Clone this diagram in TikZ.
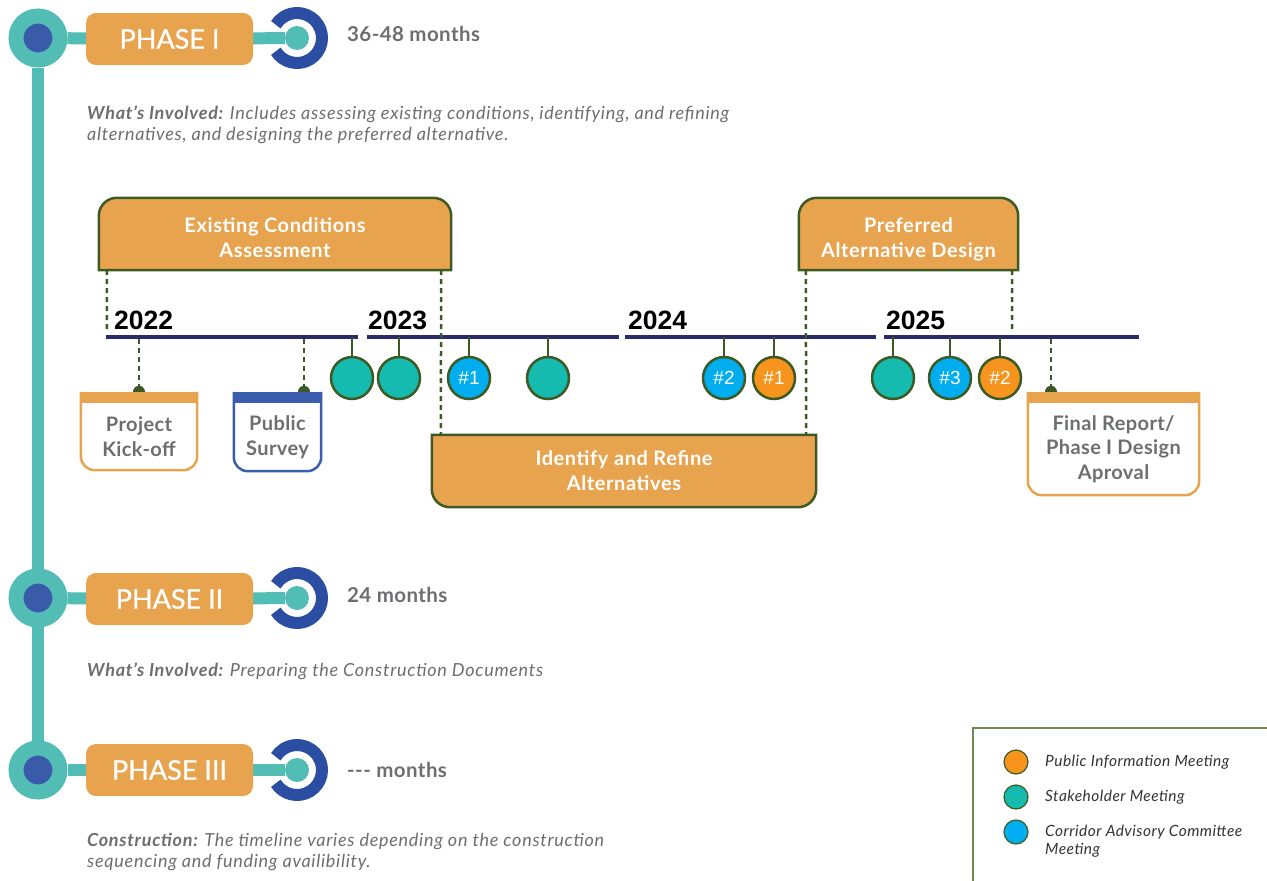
\documentclass[tikz,border=0pt]{standalone}
\usepackage{fontspec}
\setmainfont{Lato}
\newfontfamily\yearfont{Liberation Sans}
\usetikzlibrary{backgrounds}
\definecolor{boxorange}{HTML}{E8A34E}
\definecolor{tealline}{HTML}{52BDB4}
\definecolor{dotblue}{HTML}{3A5BAA}
\definecolor{arcblue}{HTML}{2B4EA2}
\definecolor{navy}{HTML}{2B2A6B}
\definecolor{dgreen}{HTML}{3D5A24}
\definecolor{mteal}{HTML}{15BBAE}
\definecolor{mblue}{HTML}{00AEEF}
\definecolor{morange}{HTML}{F7941D}
\definecolor{txtgray}{HTML}{6D6E71}
\definecolor{survblue}{HTML}{3A5DAE}
\definecolor{legline}{HTML}{6B8A55}
\definecolor{legtext}{HTML}{333333}
\begin{document}
\begin{tikzpicture}[x=1pt,y=-1pt,
  phasebox/.style={rounded corners=10pt, fill=boxorange, minimum width=167pt, minimum height=52pt, inner sep=0pt, text=white, font=\fontsize{27}{30}\selectfont\addfontfeature{FakeBold=0.8}},
  hub/.style={circle, minimum size=44pt, inner sep=0pt, fill=dotblue, draw=tealline, line width=15pt},
  enddot/.style={circle, minimum size=24pt, inner sep=0pt, fill=tealline},
  tealconn/.style={draw=tealline, line width=12pt},
  ringarc/.style={draw=arcblue, line width=12pt},
  duration/.style={anchor=base west, inner sep=0pt, text=txtgray, font=\bfseries\fontsize{20.5}{22}\selectfont\addfontfeature{LetterSpace=2}},
  desc/.style={anchor=north west, inner sep=0pt, align=left, text=txtgray, font=\itshape\fontsize{18}{20.5}\selectfont\addfontfeature{LetterSpace=4}},
  taskbox/.style={inner sep=0pt, text=white, align=center, font=\bfseries\fontsize{20}{25}\selectfont\addfontfeature{LetterSpace=3}},
  taskline/.style={draw=dgreen, fill=boxorange, line width=2.5pt},
  yearlbl/.style={anchor=base west, inner sep=0pt, font=\yearfont\bfseries\fontsize{26.5}{28}\selectfont},
  yearline/.style={draw=navy, line width=4pt},
  meet/.style={circle, minimum size=42pt, inner sep=0pt, draw=dgreen, line width=2.5pt, text=white, font=\yearfont\fontsize{19}{20}\selectfont},
  stem/.style={draw=dgreen, line width=2.5pt},
  dashconn/.style={draw=dgreen, line width=2.5pt, dash pattern=on 5pt off 4pt},
  mile/.style={inner sep=0pt, align=center, text=txtgray, font=\bfseries\fontsize{20}{24.5}\selectfont\addfontfeature{LetterSpace=2}},
  legdot/.style={circle, minimum size=24pt, inner sep=0pt, draw=dgreen, line width=1.2pt},
  legtxt/.style={anchor=west, inner sep=0pt, align=left, text=legtext, font=\itshape\fontsize{15.5}{18}\selectfont\addfontfeature{LetterSpace=3}},
]
\useasboundingbox (0,0) rectangle (1267,881);

% ---------- phase column ----------
\node[hub] (c1) at (38,38) {};
\node[hub] (c2) at (38,598) {};
\node[hub] (c3) at (38,770) {};
\node[phasebox] (p1) at (169.5,39) {PHASE I};
\node[phasebox] (p2) at (169.5,599) {PHASE II};
\node[phasebox] (p3) at (169.5,770) {PHASE III};
\node[enddot] (e1) at (297,38) {};
\node[enddot] (e2) at (297,598) {};
\node[enddot] (e3) at (297,770) {};
\foreach \e in {e1,e2,e3}{
  \draw[ringarc] ([shift={(148:25)}]\e.center) arc[start angle=148, end angle=-148, radius=25];
}
\node[duration] (d1) at (347,41) {36-48 months};
\node[duration] (d2) at (347,602) {24 months};
\node[duration] (d3) at (347,777) {-{}-{}- months};

\node[desc] (w1) at (87,106) {\textbf{What’s Involved:} Includes assessing existing conditions, identifying, and refining\\alternatives, and designing the preferred alternative.};
\node[desc] (w2) at (87,663) {\textbf{What’s Involved:} Preparing the Construction Documents};
\node[desc] (w3) at (87,833) {\textbf{Construction:} The timeline varies depending on the construction\\sequencing and funding availibility.};

% ---------- task boxes (node centred on the text, box drawn from anchors) ----------
\node[taskbox, minimum width=352pt, minimum height=72pt] (ec) at (275,238) {Existing Conditions\\Assessment};
\node[taskbox, minimum width=219pt, minimum height=72pt] (pa) at (908.5,239) {Preferred\\Alternative Design};
\node[taskbox, minimum width=384pt, minimum height=72pt] (id) at (624,471) {Identify and Refine\\Alternatives};

% ---------- milestone boxes ----------
\node[mile, minimum width=116pt, minimum height=67pt] (kick) at (139,436.5) {Project\\Kick-off};
\node[mile, minimum width=87pt, minimum height=68pt] (surv) at (277.5,437) {Public\\Survey};
\node[mile, minimum width=171pt, minimum height=92pt] (fin) at (1113.5,449) {Final Report/\\Phase I Design\\Aproval};

% ---------- years ----------
\node[yearlbl] (y22) at (114,329) {2022};
\node[yearlbl] (y23) at (368,329) {2023};
\node[yearlbl] (y24) at (628,329) {2024};
\node[yearlbl] (y25) at (886,329) {2025};

% ---------- meetings ----------
\node[meet, fill=mteal] (m1) at (352,378) {};
\node[meet, fill=mteal] (m2) at (399,378) {};
\node[meet, fill=mblue] (m3) at (469,378) {\#1};
\node[meet, fill=mteal] (m4) at (548,378) {};
\node[meet, fill=mblue] (m5) at (724,378) {\#2};
\node[meet, fill=morange] (m6) at (774,378) {\#1};
\node[meet, fill=mteal] (m7) at (893,378) {};
\node[meet, fill=mblue] (m8) at (950,378) {\#3};
\node[meet, fill=morange] (m9) at (1000,378) {\#2};

% ---------- legend ----------
\node[legdot, fill=morange] (l1) at (1016,762) {};
\node[legdot, fill=mteal] (l2) at (1016,797) {};
\node[legdot, fill=mblue] (l3) at (1016,832) {};
\node[legtxt] (lt1) at (1045,762) {Public Information Meeting};
\node[legtxt] (lt2) at (1045,797) {Stakeholder Meeting};
\node[legtxt, anchor=north west] (lt3) at (1045,825) {Corridor Advisory Committee\\Meeting};

% ---------- coordinates ----------
\coordinate (s1) at (352,337); \coordinate (s2) at (399,337);
\coordinate (s3) at (469,337); \coordinate (s4) at (548,337);
\coordinate (s5) at (724,337); \coordinate (s6) at (774,337);
\coordinate (s7) at (893,337); \coordinate (s8) at (950,337);
\coordinate (s9) at (1000,337);
\coordinate (tk) at (139,339); \coordinate (ts) at (304,339); \coordinate (tf) at (1051,339);
\coordinate (ecl) at (107,331); \coordinate (par) at (1012,331);
\coordinate (kdot) at ([yshift=11pt]kick.north);
\coordinate (sdot) at ([yshift=11pt,xshift=26.5pt]surv.north);
\coordinate (fdot) at ([yshift=11pt,xshift=-62.5pt]fin.north);
% box corners (the text nodes sit slightly below the box centres)
\coordinate (ecNW) at ([yshift=4pt]ec.north west); \coordinate (ecNE) at ([yshift=4pt]ec.north east);
\coordinate (ecSW) at ([yshift=4pt]ec.south west); \coordinate (ecSE) at ([yshift=4pt]ec.south east);
\coordinate (paNW) at ([yshift=5pt]pa.north west); \coordinate (paNE) at ([yshift=5pt]pa.north east);
\coordinate (paSW) at ([yshift=5pt]pa.south west); \coordinate (paSE) at ([yshift=5pt]pa.south east);

\begin{scope}[on background layer]
  % phase connectors
  \draw[tealconn] (c1) -- (c3);
  \foreach \c/\p/\e in {c1/p1/e1, c2/p2/e2, c3/p3/e3}{
    \draw[tealconn] (\c) -- (\p);
    \draw[tealconn] (\p) -- (\e);
  }
  % timeline
  \draw[yearline] (106,337) -- (358,337);
  \draw[yearline] (367,337) -- (619,337);
  \draw[yearline] (625,337) -- (876,337);
  \draw[yearline] (884,337) -- (1139,337);
  % stems
  \foreach \i in {1,...,9}{ \draw[stem] (s\i) -- (m\i.north); }
  % dashed connectors
  \draw[dashconn] ([xshift=8pt]ecSW) -- (ecl);
  \draw[dashconn] ([xshift=-10pt]ecSE) -- ([xshift=9pt]id.north west);
  \draw[dashconn] ([xshift=7pt]paSW) -- ([xshift=-10pt]id.north east);
  \draw[dashconn] ([xshift=-6pt]paSE) -- (par);
  \draw[dashconn] (tk) -- (kdot);
  \draw[dashconn] (ts) -- (sdot);
  \draw[dashconn] (tf) -- (fdot);
  % task boxes
  \draw[taskline] (ecSW) -- ([yshift=-18pt]ecNW) arc[start angle=180, end angle=270, radius=18]
     -- ([xshift=-18pt]ecNE) arc[start angle=270, end angle=360, radius=18] -- (ecSE) -- cycle;
  \draw[taskline] (paSW) -- ([yshift=-18pt]paNW) arc[start angle=180, end angle=270, radius=18]
     -- ([xshift=-18pt]paNE) arc[start angle=270, end angle=360, radius=18] -- (paSE) -- cycle;
  \draw[taskline] (id.north west) -- ([yshift=18pt]id.south west) arc[start angle=180, end angle=90, radius=18]
     -- ([xshift=-18pt]id.south east) arc[start angle=90, end angle=0, radius=18] -- (id.north east) -- cycle;
  % milestone boxes
  \foreach \b/\col/\dt in {kick/boxorange/kdot, surv/survblue/sdot, fin/boxorange/fdot}{
    \draw[draw=\col, line width=2.5pt, fill=white] ([yshift=11pt]\b.north west) -- ([yshift=14pt]\b.south west)
       arc[start angle=180, end angle=90, radius=14] -- ([xshift=-14pt]\b.south east)
       arc[start angle=90, end angle=0, radius=14] -- ([yshift=11pt]\b.north east);
    \fill[dgreen] (\dt) circle[radius=6];
    \fill[\col] ([yshift=11pt,xshift=-1.25pt]\b.north west) rectangle ([xshift=1.25pt]\b.north east);
  }
  % legend frame
  \draw[legline, line width=1.5pt] (1267,728) -- (973,728) -- (973,881);
\end{scope}
\end{tikzpicture}
\end{document}
